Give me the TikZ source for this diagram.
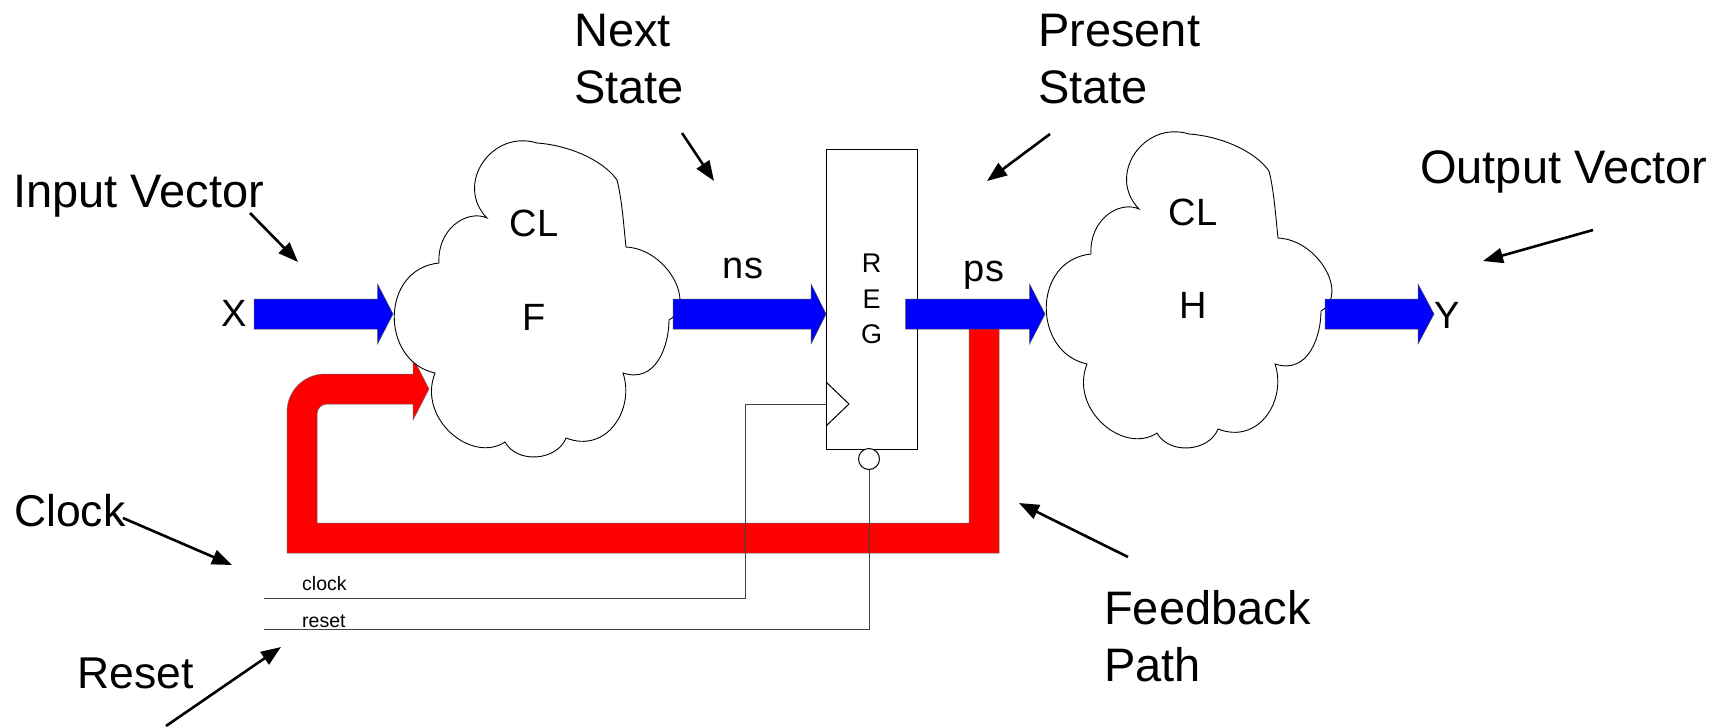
\documentclass[tikz,border=0pt]{standalone}
\usepackage{fontspec}
\setmainfont{Liberation Sans}
\usetikzlibrary{arrows.meta}
\begin{document}
\begin{tikzpicture}[x=1pt,y=-1pt,
  lbl/.style={font=\fontsize{47}{57}\selectfont, inner sep=0pt},
  lbls/.style={font=\fontsize{44.5}{54}\selectfont, inner sep=0pt},
  mid/.style={font=\fontsize{38}{44}\selectfont, inner sep=0pt},
  sml/.style={font=\fontsize{19.5}{22}\selectfont, inner sep=0pt},
  note/.style={line width=2.6pt, -{Triangle[length=20pt,width=15pt]}},
  wire/.style={line width=1pt, black!75},
  bus/.style={fill=blue, draw=black!70, line width=0.5pt},
  fb/.style={fill=red, draw=black!60, line width=0.5pt},
  cloudline/.style={fill=white, draw=black, line width=0.9pt}]
\useasboundingbox[fill=white] (0,0) rectangle (1731,726);
\def\mycloud{(47,124) .. controls (45,90) and (75,70) .. (95,79)
 .. controls (62,45) and (100,-10) .. (145,4)
 .. controls (175,6) and (210,20) .. (225,41)
 .. controls (230,60) and (232,90) .. (234,108)
 .. controls (275,110) and (305,165) .. (277,181)
 .. controls (277,205) and (265,245) .. (231,234)
 .. controls (243,270) and (215,315) .. (174,299)
 .. controls (165,322) and (125,325) .. (113,303)
 .. controls (80,325) and (25,280) .. (43,234)
 .. controls (-12,222) and (-12,130) .. (47,124) -- cycle}
% feedback path
\draw[fb] (999,328) -- (999,553) -- (287,553) -- (287,412)
  .. controls (287,391) and (304,374) .. (325,374) -- (413,374) -- (413,358)
  -- (429,389) -- (413,420) -- (413,404) -- (327,404)
  .. controls (321.5,404) and (317,408.5) .. (317,414) -- (317,523) -- (969,523)
  -- (969,328) -- cycle;
% clouds
\begin{scope}[shift={(392,139)}]
  \draw[cloudline] \mycloud;
\end{scope}
\begin{scope}[shift={(1044,130)}]
  \draw[cloudline] \mycloud;
\end{scope}
% register
\node[draw, fill=white, line width=1pt, minimum width=91pt, minimum height=300pt, inner sep=0pt,
  align=center, font=\fontsize{27}{35.5}\selectfont] (reg) at (871.5,299) {R\\E\\G};
\draw[line width=1pt] (826,382) -- (849,404) -- (826,426);
\node[circle, draw, fill=white, line width=1pt, minimum size=21pt, inner sep=0pt] (rst) at (869,459) {};
% buses
\foreach \a/\b/\c in {254/377.5/393, 673/811/826, 905.5/1029.5/1045, 1325/1418/1434}
  \draw[bus] (\a,299) -- (\b,299) -- (\b,284) -- (\c,314) -- (\b,344) -- (\b,329) -- (\a,329) -- cycle;
% wires
\coordinate (ck0) at (264,598);
\coordinate (ck1) at (745,598);
\coordinate (ck2) at (745,404);
\coordinate (ck3) at (826,404);
\draw[wire] (ck0) -- (ck1) -- (ck2) -- (ck3);
\coordinate (rs0) at (264,629);
\draw[wire] (rs0) -| (rst.south);
% texts
\node[sml, anchor=base west] (clkt) at (302,590.5) {clock};
\node[sml, anchor=base west] (rstt) at (302,627) {reset};
\node[mid, anchor=base] (cl1) at (534,236.6) {CL};
\node[mid, anchor=base] (f) at (534,330.6) {F};
\node[mid, anchor=base] (cl2) at (1193,225.6) {CL};
\node[mid, anchor=base] (h) at (1193,318.6) {H};
\node[mid, anchor=base] (x) at (234,326.6) {X};
\node[mid, anchor=base] (y) at (1447,328.6) {Y};
\node[mid, anchor=base] (ns) at (743,278) {ns};
\node[mid, anchor=base] (ps) at (984,281) {ps};
\node[lbl, anchor=base west] (inp) at (13,207) {Input Vector};
\node[lbl, anchor=base west] (outp) at (1420,183) {Output Vector};
\node[lbl, anchor=west, align=left] (nxt) at (574,59.5) {Next\\State};
\node[lbl, anchor=west, align=left] (prs) at (1038,59.5) {Present\\State};
\node[lbls, anchor=base west] (clk) at (14,526) {Clock};
\node[lbls, anchor=base west] (rstl) at (77,688) {Reset};
\node[lbl, anchor=west, align=left] (fbl) at (1104,636) {Feedback\\Path};
% annotation arrows
\coordinate (a1) at (250,213);  \coordinate (b1) at (298,262);
\coordinate (a2) at (682,133);  \coordinate (b2) at (714,181);
\coordinate (a3) at (1050,134); \coordinate (b3) at (987,181);
\coordinate (a4) at (1593,230); \coordinate (b4) at (1483,261);
\coordinate (a5) at (123,518);  \coordinate (b5) at (232,565);
\coordinate (a6) at (166,726);  \coordinate (b6) at (281,647);
\coordinate (a7) at (1128,557); \coordinate (b7) at (1019,503);
\foreach \i in {1,...,7} \draw[note] (a\i) -- (b\i);
\end{tikzpicture}
\end{document}
